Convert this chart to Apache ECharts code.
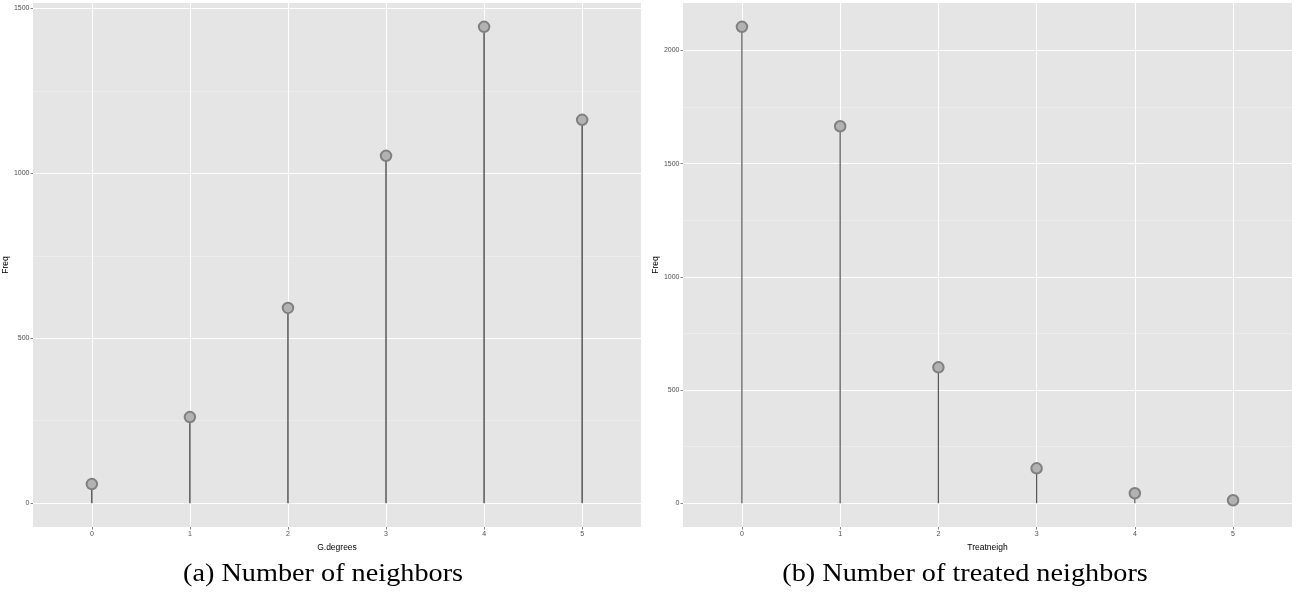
<!DOCTYPE html>
<html>
<head>
<meta charset="utf-8">
<script src="https://cdn.jsdelivr.net/npm/echarts@6/dist/echarts.min.js"></script>
<style>html,body{margin:0;padding:0;background:#fff}#c{width:1300px;height:599px}</style>
</head>
<body>
<div id="c"></div>
<script>
// ---- data ----
const categories = [0, 1, 2, 3, 4, 5];
const degreeFreq = [58, 261, 592, 1053, 1444, 1162];
const treatFreq = [2104, 1665, 600, 154, 44, 13];
const leftYTicks = [0, 500, 1000, 1500];
const leftYMinor = [250, 750, 1250];
const rightYTicks = [0, 500, 1000, 1500, 2000];
const rightYMinor = [250, 750, 1250, 1750];
const leftXName = 'G.degrees';
const rightXName = 'Treatneigh';
const yName = 'Freq';
const captions = ['(a) Number of neighbors', '(b) Number of treated neighbors'];

const panelBg = '#e5e5e5';
const tickFont = {fontSize: 7, color: '#4d4d4d', fontFamily: 'Liberation Sans, Arial, sans-serif'};

function pairs(xs, ys) { return xs.map((x, i) => [x, ys[i]]); }

function xAxisCfg(idx, name) {
  return {
    type: 'value', gridIndex: idx, min: -0.6, max: 5.6, position: 'bottom',
    name: name, nameLocation: 'middle', nameGap: 15,
    nameTextStyle: {fontSize: 8.5, color: '#000', fontFamily: 'Liberation Sans, Arial, sans-serif'},
    axisLine: {show: false, onZero: false},
    axisTick: {show: true, length: 2.5, customValues: categories, lineStyle: {color: '#333', width: 0.6}},
    axisLabel: Object.assign({customValues: categories, margin: 4, formatter: v => String(v)}, tickFont),
    splitLine: {show: false}
  };
}
function yAxisCfg(idx, min, max, ticks, gap) {
  return {
    type: 'value', gridIndex: idx, min: min, max: max, position: 'left',
    name: yName, nameLocation: 'middle', nameGap: gap, nameRotate: 90,
    nameTextStyle: {fontSize: 8.5, color: '#000', fontFamily: 'Liberation Sans, Arial, sans-serif'},
    axisLine: {show: false, onZero: false},
    axisTick: {show: true, length: 2.5, customValues: ticks, lineStyle: {color: '#333', width: 0.6}},
    axisLabel: Object.assign({customValues: ticks, margin: 3.5, formatter: v => String(v)}, tickFont),
    splitLine: {show: false}
  };
}
function gridSeries(idx, yMajor, yMinor) {
  const data = [];
  yMinor.forEach(v => data.push({yAxis: v, lineStyle: {width: 0.55, color: '#f2f2f2'}}));
  yMajor.forEach(v => data.push({yAxis: v}));
  categories.forEach(v => data.push({xAxis: v}));
  return {
    type: 'line', xAxisIndex: idx, yAxisIndex: idx, data: [], z: 0, silent: true,
    markLine: {silent: true, z: 0, symbol: ['none', 'none'], label: {show: false}, animation: false,
      lineStyle: {color: '#ffffff', width: 1.1, type: 'solid'}, data: data}
  };
}
function stemSeries(idx, vals, w) {
  return {type: 'bar', xAxisIndex: idx, yAxisIndex: idx, data: pairs(categories, vals),
    barWidth: w, itemStyle: {color: '#555555'}, z: 10, silent: true};
}
function pointSeries(idx, vals) {
  return {type: 'scatter', xAxisIndex: idx, yAxisIndex: idx, data: pairs(categories, vals),
    symbol: 'circle', symbolSize: 10.5,
    itemStyle: {color: '#b2b2b2', borderColor: '#808080', borderWidth: 2, opacity: 1}, z: 11, silent: true};
}

const capStyle = {textAlign: 'center', textVerticalAlign: 'middle',
  fontSize: 25, fontFamily: 'Liberation Serif, Times New Roman, serif', fill: '#000'};

const chart = echarts.init(document.getElementById('c'), null, {renderer: 'canvas'});
chart.setOption({
  animation: false,
  backgroundColor: '#ffffff',
  grid: [
    {left: 33, top: 3, width: 608, height: 524, show: true, backgroundColor: panelBg, borderWidth: 0},
    {left: 683, top: 3, width: 609, height: 524, show: true, backgroundColor: panelBg, borderWidth: 0}
  ],
  xAxis: [xAxisCfg(0, leftXName), xAxisCfg(1, rightXName)],
  yAxis: [yAxisCfg(0, -72.2, 1516.2, leftYTicks, 21), yAxisCfg(1, -105.2, 2209.2, rightYTicks, 21)],
  series: [
    gridSeries(0, leftYTicks, leftYMinor), stemSeries(0, degreeFreq, 1.5), pointSeries(0, degreeFreq),
    gridSeries(1, rightYTicks, rightYMinor), stemSeries(1, treatFreq, 1.2), pointSeries(1, treatFreq)
  ],
  graphic: [
    {type: 'text', x: 323, y: 574, scaleX: 1.13, style: Object.assign({text: captions[0]}, capStyle)},
    {type: 'text', x: 965, y: 574, scaleX: 1.13, style: Object.assign({text: captions[1]}, capStyle)}
  ]
});
</script>
</body>
</html>
